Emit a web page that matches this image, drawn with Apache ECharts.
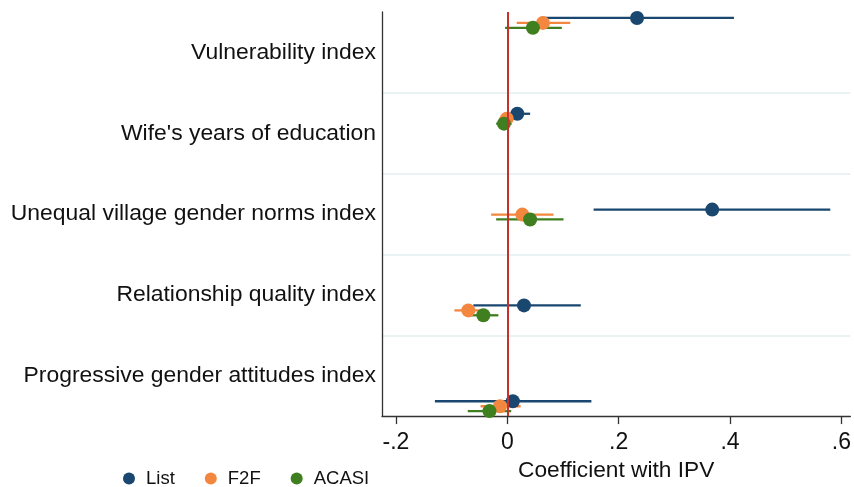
<!DOCTYPE html>
<html>
<head>
<meta charset="utf-8">
<script src="https://cdn.jsdelivr.net/npm/echarts@6/dist/echarts.min.js"></script>
<style>
html,body{margin:0;padding:0;background:#fff;}
#chart{width:854px;height:487px;}
</style>
</head>
<body>
<div id="chart"></div>
<script>
// ---- data ----
const categories = [
  "Vulnerability index",
  "Wife's years of education",
  "Unequal village gender norms index",
  "Relationship quality index",
  "Progressive gender attitudes index"
];
const listCoef  = [0.233, 0.018, 0.368, 0.030, 0.010];
const listLo    = [0.060, -0.005, 0.155, -0.061, -0.130];
const listHi    = [0.407, 0.041, 0.580, 0.132, 0.151];
const f2fCoef   = [0.064, -0.001, 0.027, -0.070, -0.013];
const f2fLo     = [0.017, -0.015, -0.029, -0.095, -0.048];
const f2fHi     = [0.113, 0.013, 0.083, -0.045, 0.024];
const acasiCoef = [0.046, -0.006, 0.041, -0.043, -0.032];
const acasiLo   = [-0.004, -0.020, -0.020, -0.071, -0.071];
const acasiHi   = [0.098, 0.008, 0.101, -0.016, 0.007];
const seriesNames = ["List", "F2F", "ACASI"];
const tickValues = [-0.2, 0, 0.2, 0.4, 0.6];
const tickLabels = ["-.2", "0", ".2", ".4", ".6"];
const xTitle = "Coefficient with IPV";

// ---- layout / style ----
const colors = ["#1a476f", "#f4873f", "#3f7f1f"];
const offsets = [0, 0.052, 0.103];
const FONT = "Liberation Sans, Arial, Helvetica, sans-serif";

const coefs = [listCoef, f2fCoef, acasiCoef];
const los = [listLo, f2fLo, acasiLo];
const his = [listHi, f2fHi, acasiHi];

const series = [];
// reference line at zero
series.push({
  type: 'scatter', xAxisIndex: 0, yAxisIndex: 1, data: [], z: 1, silent: true,
  markLine: {
    silent: true, symbol: 'none', animation: false,
    label: {show: false},
    lineStyle: {color: '#c9302c', width: 2, type: 'solid'},
    data: [{xAxis: 0}]
  }
});
seriesNames.forEach((name, s) => {
  series.push({
    type: 'custom', name: name + ' CI', xAxisIndex: 0, yAxisIndex: 1, z: 2, silent: true,
    data: categories.map((c, i) => [los[s][i], his[s][i], i + offsets[s]]),
    encode: {x: [0, 1], y: 2},
    renderItem: function (params, api) {
      const p1 = api.coord([api.value(0), api.value(2)]);
      const p2 = api.coord([api.value(1), api.value(2)]);
      return {
        type: 'line',
        shape: {x1: p1[0], y1: p1[1], x2: p2[0], y2: p2[1]},
        style: {stroke: colors[s], lineWidth: 2.3}
      };
    }
  });
  series.push({
    type: 'scatter', name: name, xAxisIndex: 0, yAxisIndex: 1, z: 2,
    symbol: 'circle', symbolSize: 14,
    itemStyle: {color: colors[s], opacity: 1},
    data: categories.map((c, i) => [coefs[s][i], i + offsets[s]])
  });
});

const chart = echarts.init(document.getElementById('chart'), null, {renderer: 'canvas'});
chart.setOption({
  animation: false,
  backgroundColor: '#fff',
  textStyle: {fontFamily: FONT},
  grid: {left: 382, right: 1, top: 12, bottom: 67, containLabel: false},
  legend: {
    data: seriesNames,
    left: 118, top: 464,
    icon: 'circle', itemWidth: 24, itemHeight: 12, itemGap: 30,
    textStyle: {fontSize: 18.5, color: '#111', fontFamily: FONT}
  },
  xAxis: [{
    type: 'value', min: -0.225, max: 0.616,
    name: xTitle, nameLocation: 'middle', nameGap: 42,
    nameTextStyle: {fontSize: 22.7, color: '#111', fontFamily: FONT},
    axisLine: {show: true, onZero: false, lineStyle: {color: '#333', width: 1.3}},
    axisTick: {show: true, length: 8, customValues: tickValues, lineStyle: {color: '#333', width: 1.3}},
    axisLabel: {
      customValues: tickValues, fontSize: 23, color: '#111', margin: 15, fontFamily: FONT,
      formatter: function (v) {
        const k = tickValues.findIndex(t => Math.abs(t - v) < 1e-9);
        return k >= 0 ? tickLabels[k] : '';
      }
    },
    splitLine: {show: false}
  }],
  yAxis: [{
    type: 'category', data: categories, inverse: true, boundaryGap: true,
    axisLine: {show: true, onZero: false, lineStyle: {color: '#333', width: 1.3}},
    axisTick: {show: false},
    axisLabel: {fontSize: 22.9, color: '#111', margin: 6, fontFamily: FONT, padding: [0, 0, 4, 0]},
    splitLine: {show: true, showMinLine: false, showMaxLine: false,
      lineStyle: {color: '#eaf2f3', width: 2}}
  }, {
    type: 'value', inverse: true, min: -0.062, max: 4.155, show: false,
    splitLine: {show: false}
  }],
  series: series
});
</script>
</body>
</html>
